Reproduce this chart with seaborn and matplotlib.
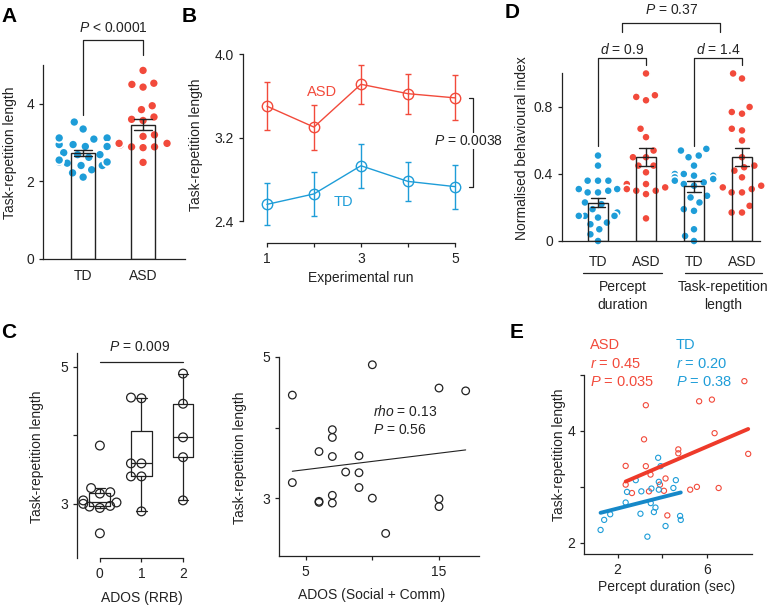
import matplotlib

matplotlib.use("Agg")
import matplotlib.pyplot as plt
import pandas as pd
import seaborn as sns

BLUE = "#1e9dd8"
RED = "#f24a3b"
BLUE_LINE = "#1688c8"
RED_LINE = "#ee3a2a"
INK = "#222222"

# A: task-repetition length per participant
td_len = [3.53, 3.35, 2.95, 2.95, 2.95, 3.09, 3.12, 3.12, 2.90, 2.90, 2.69, 2.69,
          2.74, 2.41, 2.41, 2.47, 2.50, 2.50, 2.55, 2.62, 2.11, 2.22, 2.30]
asd_len = [4.86, 4.43, 4.50, 4.53, 3.85, 3.95, 3.57, 3.60, 3.66, 2.94, 2.97, 2.98,
           2.98, 2.98, 2.87, 2.89, 2.89, 3.16, 3.20, 2.49]

# B: mean +/- sem per experimental run
runs = [1, 2, 3, 4, 5]
asd_run_mean = [3.50, 3.30, 3.71, 3.62, 3.58]
asd_run_sem = [0.23, 0.215, 0.185, 0.19, 0.215]
td_run_mean = [2.56, 2.66, 2.93, 2.78, 2.73]
td_run_sem = [0.20, 0.21, 0.21, 0.19, 0.21]

# C: ADOS scores vs task-repetition length (ASD)
rrb_score = [0, 0, 0, 0, 0, 0, 0, 0, 0, 0, 0, 1, 1, 1, 1, 1, 1, 1, 2, 2, 2, 2, 2]
rrb_len = [3.85, 3.23, 3.17, 3.15, 3.05, 3.02, 3.00, 2.97, 2.96, 2.94, 2.57,
           4.55, 4.54, 3.59, 3.59, 3.40, 3.40, 2.89,
           4.90, 4.46, 3.97, 3.68, 3.05]
soc_score = [4, 4, 6, 6, 6, 7, 7, 7, 7, 7, 8, 9, 9, 9, 10, 10, 11, 15, 15, 15, 17]
soc_len = [4.46, 3.22, 3.66, 2.94, 2.955, 3.97, 3.86, 3.59, 3.04, 2.93, 3.37, 3.60,
           3.36, 3.15, 4.89, 3.00, 2.50, 4.56, 2.99, 2.88, 4.52]

# D: normalised behavioural index
pd_td = [0.51, 0.45, 0.36, 0.36, 0.36, 0.31, 0.31, 0.30, 0.29, 0.29, 0.23, 0.22,
         0.19, 0.17, 0.15, 0.15, 0.15, 0.14, 0.11, 0.10, 0.07, 0.04, 0.0]
pd_asd = [1.0, 0.87, 0.86, 0.84, 0.67, 0.62, 0.54, 0.50, 0.50, 0.45, 0.45, 0.41,
          0.34, 0.34, 0.32, 0.31, 0.30, 0.30, 0.28, 0.135]
tr_td = [0.55, 0.54, 0.51, 0.50, 0.45, 0.40, 0.40, 0.39, 0.39, 0.38, 0.37, 0.36,
         0.35, 0.34, 0.33, 0.27, 0.26, 0.23, 0.19, 0.18, 0.07, 0.03, 0.0]
tr_asd = [1.0, 0.97, 0.80, 0.77, 0.76, 0.67, 0.66, 0.60, 0.50, 0.45, 0.44, 0.42,
          0.38, 0.33, 0.32, 0.31, 0.29, 0.29, 0.21, 0.17, 0.17]
cond_order = ["TD_p", "ASD_p", "TD_t", "ASD_t"]
cond_labels = ["TD", "ASD", "TD", "ASD"]

# E: percept duration vs task-repetition length
e_asd_dur = [2.36, 2.36, 2.64, 3.26, 3.18, 3.26, 3.47, 3.40, 3.89, 4.07, 4.14, 4.22,
             4.71, 4.71, 5.24, 5.54, 5.64, 6.21, 6.33, 6.51, 7.66, 7.83]
e_asd_len = [3.375, 3.04, 2.89, 4.46, 3.85, 3.37, 3.22, 2.92, 3.04, 2.93, 3.15, 2.49,
             3.67, 3.60, 2.95, 3.00, 4.53, 4.56, 3.96, 2.98, 4.89, 3.59]
e_td_dur = [1.24, 1.40, 1.67, 2.36, 2.42, 2.81, 3.02, 3.06, 3.33, 3.51, 3.48, 3.62,
            3.69, 3.81, 3.84, 3.84, 3.92, 4.14, 4.49, 4.60, 4.79, 4.82]
e_td_len = [2.23, 2.41, 2.51, 2.72, 2.91, 3.12, 2.52, 2.92, 2.11, 2.97, 2.71, 2.55,
            2.63, 3.52, 3.09, 2.95, 3.37, 2.30, 2.98, 3.12, 2.48, 2.41]

W, H = 775, 608

sns.set_style("ticks")
plt.rcParams["font.family"] = ["Liberation Sans", "DejaVu Sans"]
plt.rcParams["mathtext.fontset"] = "custom"
plt.rcParams["mathtext.it"] = "Liberation Sans:italic"
plt.rcParams["mathtext.rm"] = "Liberation Sans"
plt.rcParams.update({
    "font.size": 10,
    "axes.edgecolor": INK,
    "axes.linewidth": 0.9,
    "xtick.color": INK,
    "ytick.color": INK,
    "xtick.major.size": 3,
    "ytick.major.size": 3,
    "xtick.major.width": 0.9,
    "ytick.major.width": 0.9,
    "xtick.labelsize": 10,
    "ytick.labelsize": 10,
    "text.color": INK,
})

fig = plt.figure(figsize=(W / 100, H / 100), dpi=100)


def box(x0, y0, x1, y1):
    return [x0 / W, 1 - y1 / H, (x1 - x0) / W, (y1 - y0) / H]


def label(x, y, s, rot=0, **kw):
    fig.text(x / W, 1 - y / H, s, rotation=rot, ha=kw.pop("ha", "center"),
             va="center", **kw)


def tidy(ax):
    sns.despine(ax=ax)
    ax.set_xlabel("")
    ax.set_ylabel("")


# ---- A ----
ax = fig.add_axes(box(43, 65, 185, 259))
dfa = pd.DataFrame({"group": ["TD"] * len(td_len) + ["ASD"] * len(asd_len),
                    "len": td_len + asd_len})
# white rim keeps the swarm loosely packed like the original
sns.swarmplot(data=dfa, x="group", y="len", hue="group", order=["TD", "ASD"],
              palette={"TD": BLUE, "ASD": RED}, size=6.6, edgecolor="white",
              linewidth=1.3, legend=False, zorder=1, ax=ax)
sns.barplot(data=dfa, x="group", y="len", order=["TD", "ASD"], errorbar="se",
            fill=False, color=INK, width=0.4, linewidth=1, capsize=0.3,
            err_kws={"linewidth": 1, "color": INK}, ax=ax)
ax.set_xlim(-0.67, 1.7)
ax.set_ylim(0, 5)
ax.set_yticks([0, 2, 4])
ax.tick_params(axis="x", length=0, pad=7)
tidy(ax)
ax.plot([0, 0, 1, 1], [3.72, 5.65, 5.65, 5.26], color=INK, lw=0.9, clip_on=False)
ax.text(0.5, 5.96, "$P$ < 0.0001", ha="center", va="center")

# ---- B ----
ax = fig.add_axes(box(243, 54, 469, 243))
for means, sems, c in [(asd_run_mean, asd_run_sem, RED),
                       (td_run_mean, td_run_sem, BLUE)]:
    sns.lineplot(x=runs, y=means, color=c, marker="o", markersize=7.5,
                 mfc="none", mec=c, mew=1, lw=1, ax=ax)
    ax.errorbar(runs, means, yerr=sems, fmt="none", ecolor=c, elinewidth=1,
                capsize=2)
ax.set_xlim(0.49, 5.3)
ax.set_ylim(2.19, 4.0)
ax.set_xticks(runs)
ax.set_xticklabels(["1", "", "3", "", "5"])
ax.set_yticks([2.4, 3.2, 4.0])
ax.set_yticklabels(["2.4", "3.2", "4.0"])
tidy(ax)
ax.spines["left"].set_bounds(2.4, 4.0)
ax.spines["bottom"].set_bounds(1, 5)
ax.plot([5.3, 5.38, 5.38, 5.3], [asd_run_mean[-1], asd_run_mean[-1],
        td_run_mean[-1], td_run_mean[-1]], color=INK, lw=0.9, clip_on=False)
ax.text(5.28, 3.167, "$P$ = 0.0038", ha="center", va="center",
        bbox={"fc": "white", "ec": "none", "pad": 1})
label(322, 92, "ASD", color=RED, fontsize=10.5)
label(343, 202, "TD", color=BLUE, fontsize=10.5)

# ---- C left ----
ax = fig.add_axes(box(77, 353, 195.5, 558))
dfc = pd.DataFrame({"rrb": rrb_score, "len": rrb_len})
sns.boxplot(data=dfc, x="rrb", y="len", fill=False, color=INK, width=0.5,
            linewidth=0.9, showfliers=False, ax=ax)
sns.swarmplot(data=dfc, x="rrb", y="len", color=INK, facecolor="none",
              edgecolor=INK, linewidth=0.9, size=6.3, ax=ax)
ax.set_xlim(-0.55, 2.3)
ax.set_ylim(2.21, 5.2)
ax.set_yticks([3, 4, 5])
ax.set_yticklabels(["3", "", "5"])
tidy(ax)
ax.spines["bottom"].set_bounds(0, 2)
ax.plot([0, 2], [5.07, 5.07], color=INK, lw=0.9, clip_on=False)
ax.text(0.96, 5.29, "$P$ = 0.009", ha="center", va="center")

# ---- C right ----
ax = fig.add_axes(box(279, 357, 479, 556))
sns.regplot(x=soc_score, y=soc_len, ci=None, color=INK,
            scatter_kws={"facecolors": "none", "s": 30, "linewidths": 0.9,
                         "alpha": 1, "clip_on": False},
            line_kws={"lw": 0.8}, ax=ax)
ax.set_xlim(3, 18)
ax.set_ylim(2.18, 5.0)
ax.set_xticks([5, 10, 15])
ax.set_xticklabels(["5", "", "15"])
ax.set_yticks([3, 4, 5])
ax.set_yticklabels(["3", "", "5"])
tidy(ax)
label(373, 411, "$rho$ = 0.13", ha="left")
label(373, 430, "$P$ = 0.56", ha="left")

# ---- D ----
ax = fig.add_axes(box(562, 65.1, 760, 241))
vals = [pd_td, pd_asd, tr_td, tr_asd]
dfd = pd.DataFrame({
    "cond": sum([[c] * len(v) for c, v in zip(cond_order, vals)], []),
    "group": sum([[c.split("_")[0]] * len(v) for c, v in zip(cond_order, vals)], []),
    "val": sum(vals, []),
})
sns.swarmplot(data=dfd, x="cond", y="val", hue="group", order=cond_order,
              palette={"TD": BLUE, "ASD": RED}, size=5.9, edgecolor="white",
              linewidth=1.2, legend=False, clip_on=False, zorder=1, ax=ax)
sns.barplot(data=dfd, x="cond", y="val", order=cond_order, errorbar="se",
            fill=False, color=INK, width=0.43, linewidth=1, capsize=0.3,
            err_kws={"linewidth": 1, "color": INK}, ax=ax)
ax.set_xlim(-0.75, 3.375)
ax.set_ylim(0, 1.05)
ax.set_yticks([0, 0.4, 0.8])
ax.set_yticklabels(["0", "0.4", "0.8"])
ax.set_xticks(range(4))
ax.set_xticklabels(cond_labels)
ax.tick_params(axis="x", length=0, pad=10)
tidy(ax)
ax.spines["left"].set_bounds(0, 1.0)
for x0 in (0, 2):
    ax.plot([x0, x0, x0 + 1, x0 + 1], [0.57, 1.093, 1.093, 1.05], color=INK,
            lw=0.9, clip_on=False)
ax.text(0.5, 1.146, "$d$ = 0.9", ha="center", va="center")
ax.text(2.5, 1.146, "$d$ = 1.4", ha="center", va="center")
ax.plot([0.5, 0.5, 2.55, 2.55], [1.248, 1.30, 1.30, 1.248], color=INK, lw=0.9,
        clip_on=False)
ax.text(1.53, 1.38, "$P$ = 0.37", ha="center", va="center")
xt = ax.get_xaxis_transform()
ax.plot([-0.31, 1.33], [-0.182, -0.182], color=INK, lw=0.9, transform=xt,
        clip_on=False)
ax.plot([1.81, 3.42], [-0.182, -0.182], color=INK, lw=0.9, transform=xt,
        clip_on=False)
ax.text(0.51, -0.3125, "Percept\nduration", ha="center", va="center",
        transform=xt, linespacing=1.3)
ax.text(2.6, -0.3125, "Task-repetition\nlength", ha="center", va="center",
        transform=xt, linespacing=1.3)

# ---- E ----
ax = fig.add_axes(box(584, 375, 752, 554))
for xs, ys, c, lc in [(e_asd_dur, e_asd_len, RED, RED_LINE),
                      (e_td_dur, e_td_len, BLUE, BLUE_LINE)]:
    sns.regplot(x=xs, y=ys, ci=None, color=c,
                scatter_kws={"facecolors": "none", "s": 14, "linewidths": 0.8,
                             "alpha": 1},
                line_kws={"lw": 2.8, "color": lc}, ax=ax)
ax.set_xlim(0.5, 8.0)
ax.set_ylim(1.8, 5.0)
ax.set_xticks([2, 4, 6])
ax.set_xticklabels(["2", "", "6"])
ax.set_yticks([2, 3, 4, 5])
ax.set_yticklabels(["2", "", "4", ""])
tidy(ax)
for i, s in enumerate(["ASD", "$r$ = 0.45", "$P$ = 0.035"]):
    label(590, 345 + 18.5 * i, s, ha="left", color=RED, fontsize=10.5)
for i, s in enumerate(["TD", "$r$ = 0.20", "$P$ = 0.38"]):
    label(676, 345 + 18.5 * i, s, ha="left", color=BLUE, fontsize=10.5)

# ---- axis labels and panel letters ----
label(10, 153, "Task-repetition length", rot=90)
label(196, 145, "Task-repetition length", rot=90)
label(361, 278, "Experimental run")
label(37, 457, "Task-repetition length", rot=90)
label(142, 598, "ADOS (RRB)")
label(240, 458, "Task-repetition length", rot=90)
label(372, 595, "ADOS (Social + Comm)")
label(522, 148, "Normalised behavioural index", rot=90)
label(559, 455, "Task-repetition length", rot=90)
label(667, 587, "Percept duration (sec)")
for s, x, y in [("A", 9, 16), ("B", 189, 16), ("C", 9, 332), ("D", 512, 12),
                ("E", 517, 332)]:
    label(x, y, s, fontsize=15, fontweight="bold", color="black")

fig.savefig("out.png", dpi=100)
